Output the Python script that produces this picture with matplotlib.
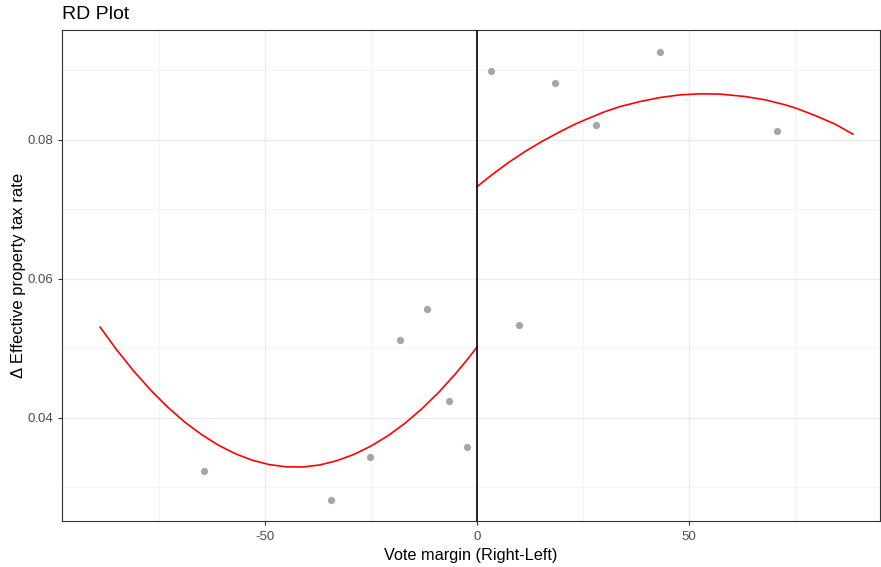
import matplotlib
matplotlib.use("Agg")
import matplotlib.pyplot as plt
import numpy as np

# Medias por bin (pontos cinzas)
bin_x = [-64.5, -34.4, -25.2, -18.2, -11.9, -6.6, -2.3, 3.2, 9.9, 18.3, 28.1, 43.2, 70.8]
bin_y = [0.03237, 0.02816, 0.03439, 0.05122, 0.05568, 0.04249, 0.03578,
         0.08997, 0.05338, 0.08820, 0.08216, 0.09262, 0.08134]

# Ajuste polinomial, lado esquerdo do corte
left_x = [-88.9, -85, -81, -77, -73, -69, -65, -61, -57, -53, -49, -45, -41,
          -37, -33, -29, -25, -21, -17, -13, -9, -5, -2, 0]
left_y = [0.05306, 0.04980, 0.04676, 0.04402, 0.04158, 0.03943, 0.03762, 0.03608,
          0.03485, 0.03392, 0.03329, 0.03297, 0.03295, 0.03325, 0.03387, 0.03477,
          0.03597, 0.03745, 0.03924, 0.04133, 0.04372, 0.04642, 0.04864, 0.05022]
# lado direito do corte
right_x = [0.0, 3.47, 7.38, 11.32, 15.26, 19.17, 23.11, 25.47, 30.19, 33.73, 38.44,
           43.16, 47.88, 52.59, 57.31, 63.21, 67.92, 72.64, 75.16, 79.72, 84.43, 88.61]
right_y = [0.07328, 0.07496, 0.07673, 0.07832, 0.07976, 0.08105, 0.08226, 0.08288,
           0.08407, 0.08479, 0.08551, 0.08609, 0.08647, 0.08662, 0.08658, 0.08623,
           0.08576, 0.08504, 0.08456, 0.08350, 0.08226, 0.08082]

plt.rcParams['font.family'] = ['Liberation Sans', 'DejaVu Sans']

fig = plt.figure(figsize=(8.81, 5.67), dpi=100)
ax = fig.add_axes([62/881, 1 - 521/567, 818/881, 491/567])

ax.set_xlim(-97.9, 95.0)
ax.set_ylim(0.02518, 0.0958)

# grade no estilo theme_bw
ax.set_xticks([-50, 0, 50])
ax.set_xticks([-75, -25, 25, 75], minor=True)
ax.set_yticks([0.04, 0.06, 0.08])
ax.set_yticks([0.03, 0.05, 0.07, 0.09], minor=True)
ax.grid(which='major', color='#EBEBEB', linewidth=1.0)
ax.grid(which='minor', color='#F2F2F2', linewidth=0.6)
ax.set_axisbelow(True)
ax.set_xticklabels(['-50', '0', '50'])
ax.set_yticklabels(['0.04', '0.06', '0.08'])
ax.tick_params(which='major', length=3, width=0.8, color='#333333',
               labelcolor='#4D4D4D', labelsize=9.5)
ax.tick_params(axis='x', which='major', pad=4.5)
ax.tick_params(which='minor', length=0)
for s in ax.spines.values():
    s.set_color('#333333')
    s.set_linewidth(0.8)

ax.scatter(bin_x, bin_y, s=27, color='#A6A6A6', zorder=3, linewidths=0)
ax.plot(left_x, left_y, color='red', linewidth=1.2, zorder=4, solid_joinstyle='round')
ax.plot(right_x, right_y, color='red', linewidth=1.2, zorder=4, solid_joinstyle='round')
ax.axvline(0, color='black', linewidth=1.2, zorder=5)

ax.set_xlabel('Vote margin (Right-Left)', fontsize=11.7, labelpad=3)
ax.set_ylabel('Δ Effective property tax rate', fontsize=12, labelpad=1)
ax.set_title('RD Plot', fontsize=14, loc='left', pad=8)

fig.savefig('out.png', dpi=100)
